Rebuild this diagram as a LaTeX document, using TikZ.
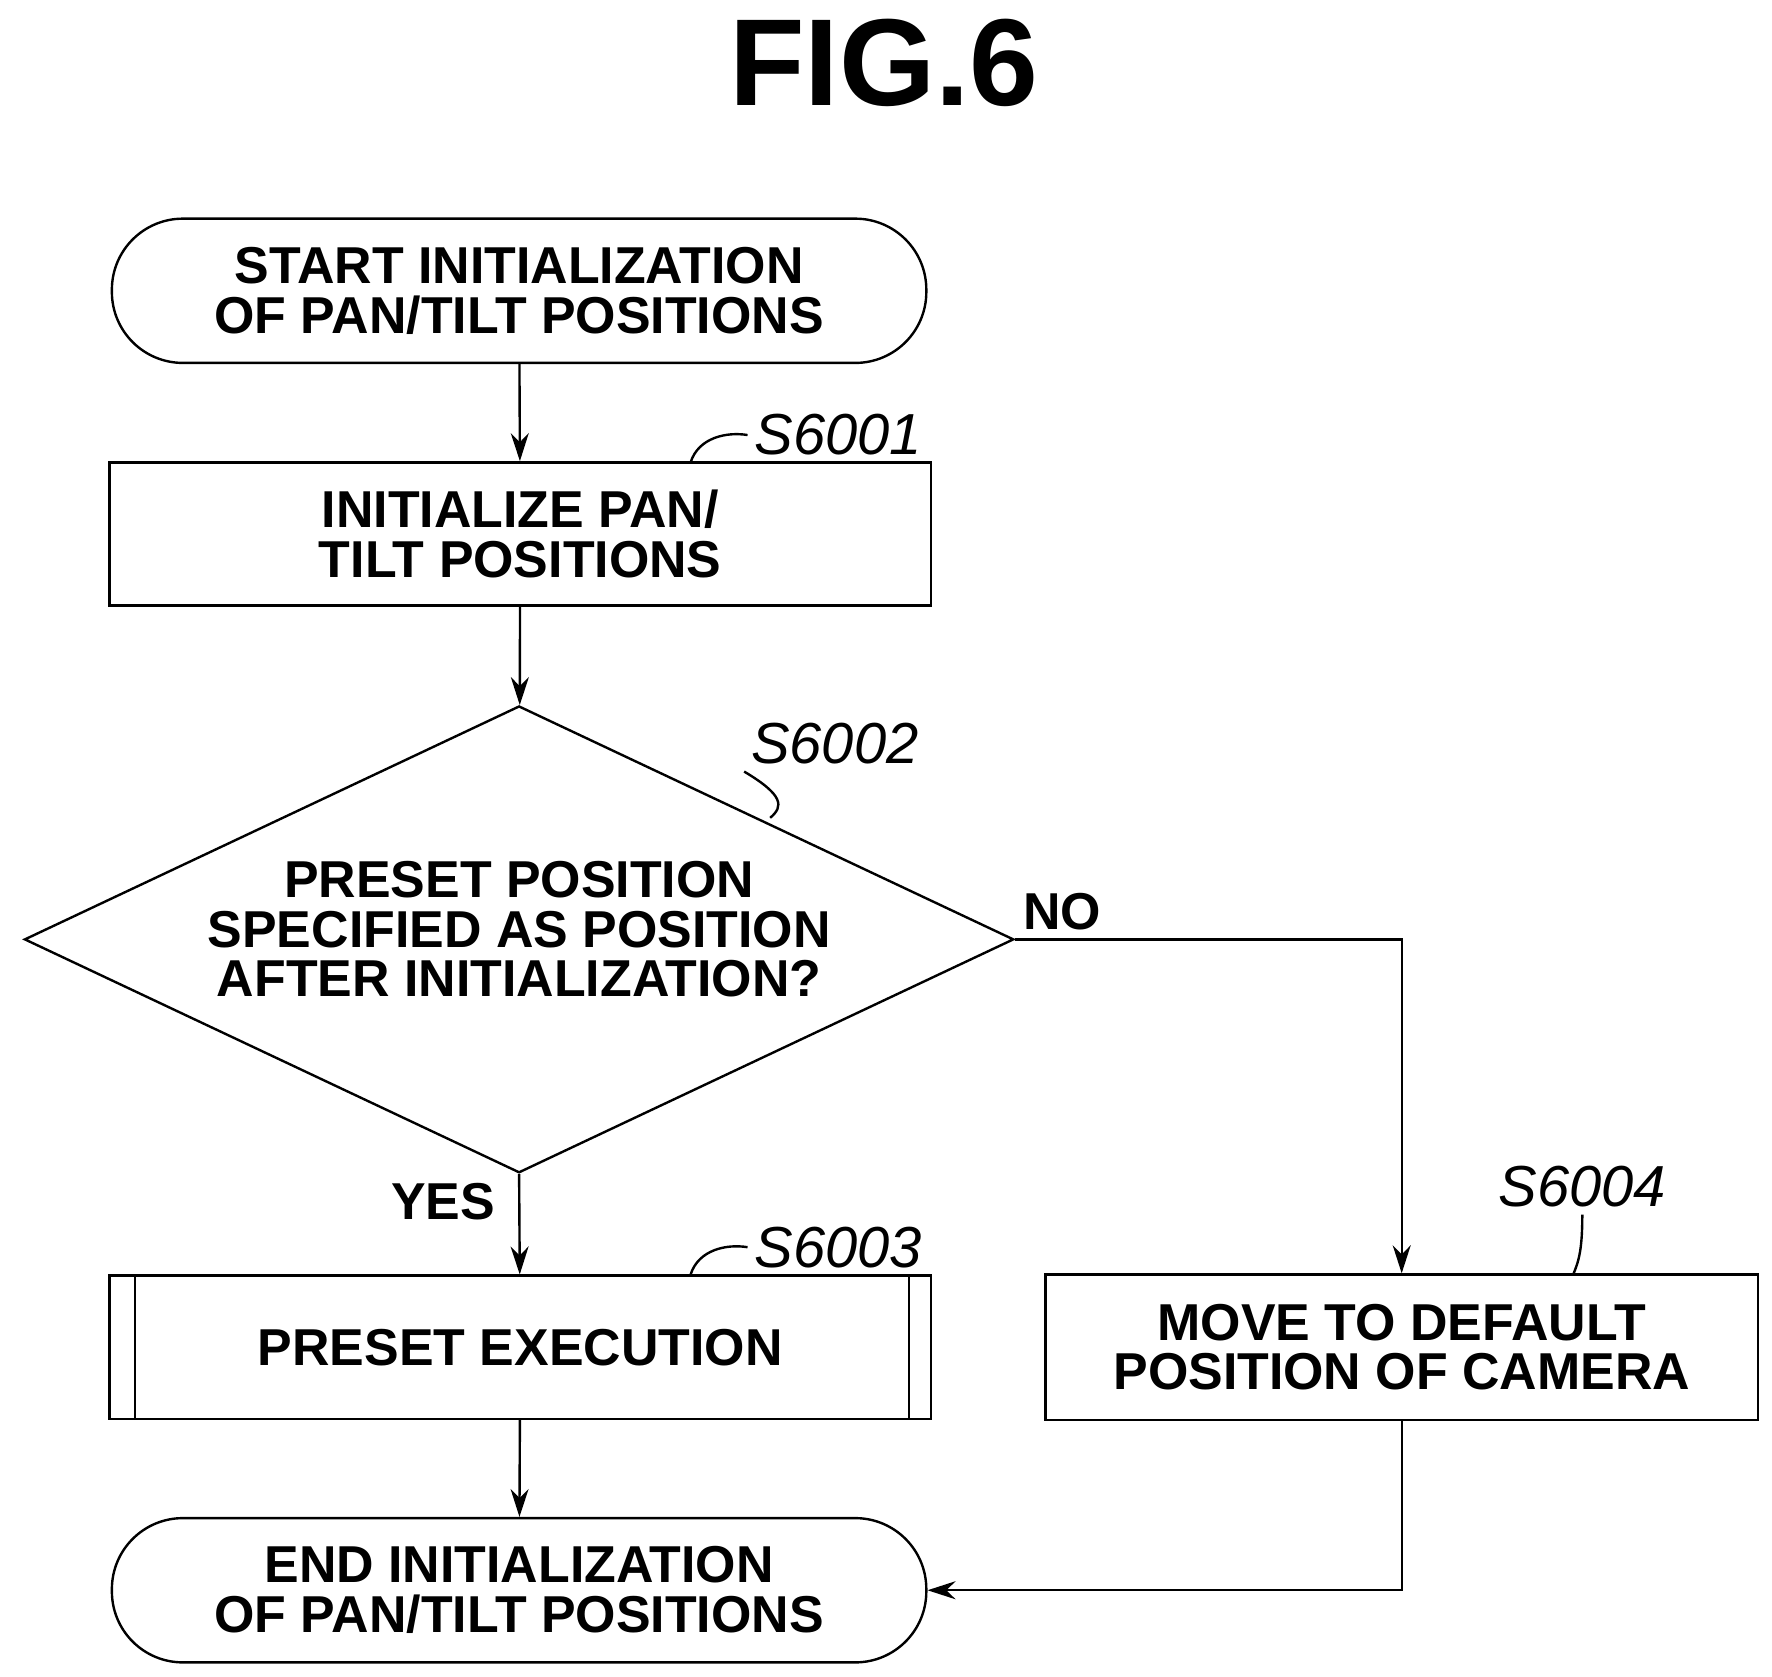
\documentclass[tikz,border=0pt]{standalone}
\usepackage{fontspec}
\setmainfont{Liberation Sans}
\usetikzlibrary{shapes.geometric,arrows.meta}
\begin{document}
\begin{tikzpicture}[x=0.02cm,y=-0.02cm]
    \tikzstyle{every node}=[font=\bfseries\fontsize{26}{29}\selectfont, align=center]
    \tikzstyle{terminal}=[draw, line width=1.2pt, rounded corners=1.25cm, minimum width=717*0.02cm, minimum height=127*0.02cm]
    \tikzstyle{process}=[draw, line width=1.2pt, minimum width=723*0.02cm, minimum height=126*0.02cm]
    \tikzstyle{step label}=[font=\itshape\fontsize{29}{30}\selectfont]
    \tikzstyle{flow}=[line width=1.2pt, -{Stealth[length=14pt,width=9pt]}]
    \tikzstyle{leader}=[line width=1.2pt]

    \useasboundingbox (0,0) rectangle (1560,1476);

    \node[font=\bfseries\fontsize{62}{66}\selectfont] (title) at (778,55) {FIG.6};

	\node[terminal] (start) at (457,256) {START INITIALIZATION\\[-4pt]OF PAN/TILT POSITIONS};
	\node[process]  (init)  at (458,470) {INITIALIZE PAN/\\[-4pt]TILT POSITIONS};
	\node[draw, line width=1.2pt, diamond, minimum width=871*0.02cm, minimum height=411*0.02cm,
	      inner sep=0pt] (check) at (457,827) {};
	\node (checktext) at (457,818) {PRESET POSITION\\[-4pt]SPECIFIED AS POSITION\\[-4pt]AFTER INITIALIZATION?};
	\node[process]  (preset) at (458,1186) {PRESET EXECUTION};
	\node[draw, line width=1.2pt, minimum width=627*0.02cm, minimum height=128*0.02cm] (move) at (1234,1186)
	    {MOVE TO DEFAULT\\[-4pt]POSITION OF CAMERA};
	\node[terminal] (end)   at (457,1400) {END INITIALIZATION\\[-4pt]OF PAN/TILT POSITIONS};

	\draw[line width=1.2pt] (119,1123) -- (119,1249);
	\draw[line width=1.2pt] (800,1123) -- (800,1249);

	\node (no)  at (935,803)  {NO};
	\node (yes) at (390,1058) {YES};

	\node[step label] (s1) at (738,383)  {S6001};
	\node[step label] (s2) at (735,655)  {S6002};
	\node[step label] (s3) at (738,1098) {S6003};
	\node[step label] (s4) at (1393,1045){S6004};

	\draw[leader] (s1.west) .. controls (640,380) and (615,385) .. (608,407);
	\draw[leader] (s2.south west) .. controls (690,700) and (690,710) .. (678,720);
	\draw[leader] (s3.west) .. controls (640,1095) and (615,1100) .. (608,1122);
	\draw[leader] (s4.south) .. controls (1393,1100) and (1390,1110) .. (1385,1122);

	\draw[flow] (start) -- (init);
	\draw[flow] (init) -- (check);
	\draw[flow] (check.south) -- (preset);
	\draw[flow] (check.east) -| (move.north);
	\draw[flow] (preset) -- (end);
	\draw[flow] (move.south) |- (end.east);
\end{tikzpicture}
\end{document}
